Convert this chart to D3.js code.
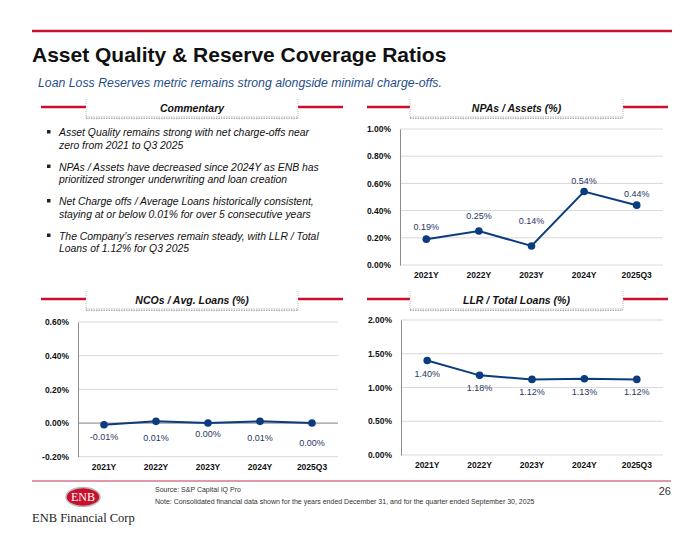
<!DOCTYPE html>
<html>
<head>
<meta charset="utf-8">
<script src="https://cdn.jsdelivr.net/npm/d3@7"></script>
<style>
  body { margin: 0; background: #fff; }
  text { font-family: "Liberation Sans", Arial, sans-serif; }
</style>
</head>
<body>
<div id="slide"></div>
<script>
const years = ["2021Y", "2022Y", "2023Y", "2024Y", "2025Q3"];

const npaValues = [0.19, 0.25, 0.14, 0.54, 0.44];
const ncoValues = [-0.01, 0.01, 0.00, 0.01, 0.00];
const llrValues = [1.40, 1.18, 1.12, 1.13, 1.12];

const npaTicks = [0, 0.2, 0.4, 0.6, 0.8, 1.0];
const ncoTicks = [-0.2, 0, 0.2, 0.4, 0.6];
const llrTicks = [0, 0.5, 1.0, 1.5, 2.0];

const bullets = [
  ["Asset Quality remains strong with net charge-offs near", "zero from 2021 to Q3 2025"],
  ["NPAs / Assets have decreased since 2024Y as ENB has", "prioritized stronger underwriting and loan creation"],
  ["Net Charge offs / Average Loans historically consistent,", "staying at or below 0.01% for over 5 consecutive years"],
  ["The Company\u2019s reserves remain steady, with LLR / Total", "Loans of 1.12% for Q3 2025"]
];

// label nudges as placed on the slide
const npaLabelDy = [-12, -15, -25, -11, -11];
const ncoLabelDy = [12, 17, 11, 17, 20];

const W = 700, H = 540;
const red = "#c8102e";
const navy = "#0b3c7d";
const labelColor = "#1f3864";

const svg = d3.select("#slide")
  .append("svg")
  .attr("width", W)
  .attr("height", H);

svg.append("rect").attr("width", W).attr("height", H).attr("fill", "#fff");

// title block
svg.append("line")
  .attr("x1", 32).attr("x2", 672).attr("y1", 31).attr("y2", 31)
  .attr("stroke", red).attr("stroke-width", 2.5);

svg.append("text")
  .attr("x", 32).attr("y", 62)
  .attr("font-size", 21).attr("font-weight", "bold")
  .attr("fill", "#111")
  .text("Asset Quality & Reserve Coverage Ratios");

svg.append("text")
  .attr("x", 38).attr("y", 87)
  .attr("font-size", 12.3).attr("font-style", "italic")
  .attr("fill", "#1f4e8c")
  .text("Loan Loss Reserves metric remains strong alongside minimal charge-offs.");

// section headers
function header(left, right, boxL, boxR, y, label) {
  const g = svg.append("g");
  g.append("line").attr("x1", left).attr("x2", boxL).attr("y1", y).attr("y2", y)
    .attr("stroke", red).attr("stroke-width", 2.5);
  g.append("line").attr("x1", boxR).attr("x2", right).attr("y1", y).attr("y2", y)
    .attr("stroke", red).attr("stroke-width", 2.5);
  [boxL, boxR].forEach(x => {
    g.append("line").attr("x1", x).attr("x2", x).attr("y1", y - 8).attr("y2", y + 11)
      .attr("stroke", "#aaa").attr("stroke-width", 0.8).attr("stroke-dasharray", "1,1");
  });
  [y + 10, y + 11.5].forEach(yy => {
    g.append("line").attr("x1", boxL).attr("x2", boxR).attr("y1", yy).attr("y2", yy)
      .attr("stroke", "#999").attr("stroke-width", 0.8).attr("stroke-dasharray", "1.5,1");
  });
  g.append("text")
    .attr("x", (boxL + boxR) / 2).attr("y", y + 4.5)
    .attr("text-anchor", "middle")
    .attr("font-size", 10.5).attr("font-weight", "bold").attr("font-style", "italic")
    .attr("fill", "#111")
    .text(label);
}

header(41, 343, 86, 298, 107, "Commentary");
header(367, 668, 410, 623, 107, "NPAs / Assets (%)");
header(41, 343, 86, 298, 299, "NCOs / Avg. Loans (%)");
header(367, 668, 410, 623, 299, "LLR / Total Loans (%)");

// commentary bullets
const bulletG = svg.append("g");
bullets.forEach((lines, i) => {
  const y0 = 136 + i * 34.5;
  bulletG.append("rect")
    .attr("x", 47).attr("y", y0 - 6).attr("width", 3.5).attr("height", 3.5)
    .attr("fill", "#222");
  lines.forEach((t, j) => {
    bulletG.append("text")
      .attr("x", 59).attr("y", y0 + j * 12.5)
      .attr("font-size", 10.4).attr("font-style", "italic")
      .attr("fill", "#111")
      .text(t);
  });
});

// line chart panel
function lineChart(opt) {
  const g = svg.append("g");
  const x = d3.scaleBand().domain(years).range([opt.left, opt.right]);
  const y = d3.scaleLinear().domain(opt.domain).range([opt.bottom, opt.top]);

  // gridlines
  g.selectAll(".grid")
    .data(opt.ticks)
    .enter()
    .append("line")
    .attr("x1", opt.left).attr("x2", opt.right)
    .attr("y1", d => y(d)).attr("y2", d => y(d))
    .attr("stroke", d => (d === 0 && opt.domain[0] < 0) ? "#9a9a9a" : "#d9d9d9")
    .attr("stroke-width", d => (d === 0 && opt.domain[0] < 0) ? 1.3 : 1);

  // y axis
  const yAxis = d3.axisLeft(y)
    .tickValues(opt.ticks)
    .tickSize(0)
    .tickPadding(9)
    .tickFormat(d => d.toFixed(2) + "%");
  const ya = g.append("g")
    .attr("transform", "translate(" + opt.left + ",0)")
    .call(yAxis);
  ya.select(".domain").attr("stroke", "#8c8c8c").attr("stroke-width", 1);
  ya.selectAll("text")
    .attr("font-size", 8.5).attr("font-weight", "bold")
    .attr("fill", "#111")
    .attr("font-family", "Liberation Sans, Arial, sans-serif");

  // x axis labels
  const xAxis = d3.axisBottom(x).tickSize(0).tickPadding(7);
  const xa = g.append("g")
    .attr("transform", "translate(0," + opt.bottom + ")")
    .call(xAxis);
  xa.select(".domain").remove();
  xa.selectAll("text")
    .attr("font-size", 8.5).attr("font-weight", "bold")
    .attr("fill", "#111")
    .attr("font-family", "Liberation Sans, Arial, sans-serif");

  const cx = d => x(d) + x.bandwidth() / 2;
  const pts = years.map((c, i) => [cx(c), y(opt.values[i])]);

  g.append("path")
    .attr("d", d3.line()(pts))
    .attr("fill", "none")
    .attr("stroke", navy)
    .attr("stroke-width", 2);

  g.selectAll(".pt")
    .data(pts)
    .enter()
    .append("circle")
    .attr("cx", d => d[0]).attr("cy", d => d[1])
    .attr("r", 3.8)
    .attr("fill", navy);

  g.selectAll(".lbl")
    .data(opt.values)
    .enter()
    .append("text")
    .attr("x", (d, i) => pts[i][0])
    .attr("y", (d, i) => pts[i][1] + opt.labelDy[i] + 3)
    .attr("text-anchor", "middle")
    .attr("font-size", 9)
    .attr("fill", labelColor)
    .text(d => d.toFixed(2) + "%");
}

lineChart({
  left: 400, right: 663, top: 129, bottom: 265,
  domain: [0, 1], ticks: npaTicks, values: npaValues, labelDy: npaLabelDy
});

lineChart({
  left: 78, right: 338, top: 322, bottom: 456.7,
  domain: [-0.2, 0.6], ticks: ncoTicks, values: ncoValues, labelDy: ncoLabelDy
});

lineChart({
  left: 401, right: 663, top: 320, bottom: 455,
  domain: [0, 2], ticks: llrTicks, values: llrValues, labelDy: llrValues.map(() => 13)
});

// footer
svg.append("line")
  .attr("x1", 32).attr("x2", 671).attr("y1", 481).attr("y2", 481)
  .attr("stroke", "#d4788c").attr("stroke-width", 1.5);

svg.append("ellipse")
  .attr("cx", 83).attr("cy", 497).attr("rx", 17).attr("ry", 9.5)
  .attr("fill", "#c8102e").attr("stroke", "#b8b8b8").attr("stroke-width", 1.5);

svg.append("text")
  .attr("x", 83).attr("y", 501)
  .attr("text-anchor", "middle")
  .style("font-family", "Liberation Serif, serif")
  .attr("font-size", 12)
  .attr("fill", "#fff")
  .text("ENB");

svg.append("text")
  .attr("x", 32).attr("y", 522)
  .style("font-family", "Liberation Serif, serif")
  .attr("font-size", 12.5)
  .attr("fill", "#222")
  .text("ENB Financial Corp");

svg.append("text")
  .attr("x", 155).attr("y", 492)
  .attr("font-size", 7)
  .attr("fill", "#333")
  .text("Source: S&P Capital IQ Pro");

svg.append("text")
  .attr("x", 155).attr("y", 504)
  .attr("font-size", 7)
  .attr("fill", "#333")
  .text("Note: Consolidated financial data shown for the years ended December 31, and for the quarter ended September 30, 2025");

svg.append("text")
  .attr("x", 671).attr("y", 495)
  .attr("text-anchor", "end")
  .attr("font-size", 11)
  .attr("fill", "#333")
  .text("26");
</script>
</body>
</html>
